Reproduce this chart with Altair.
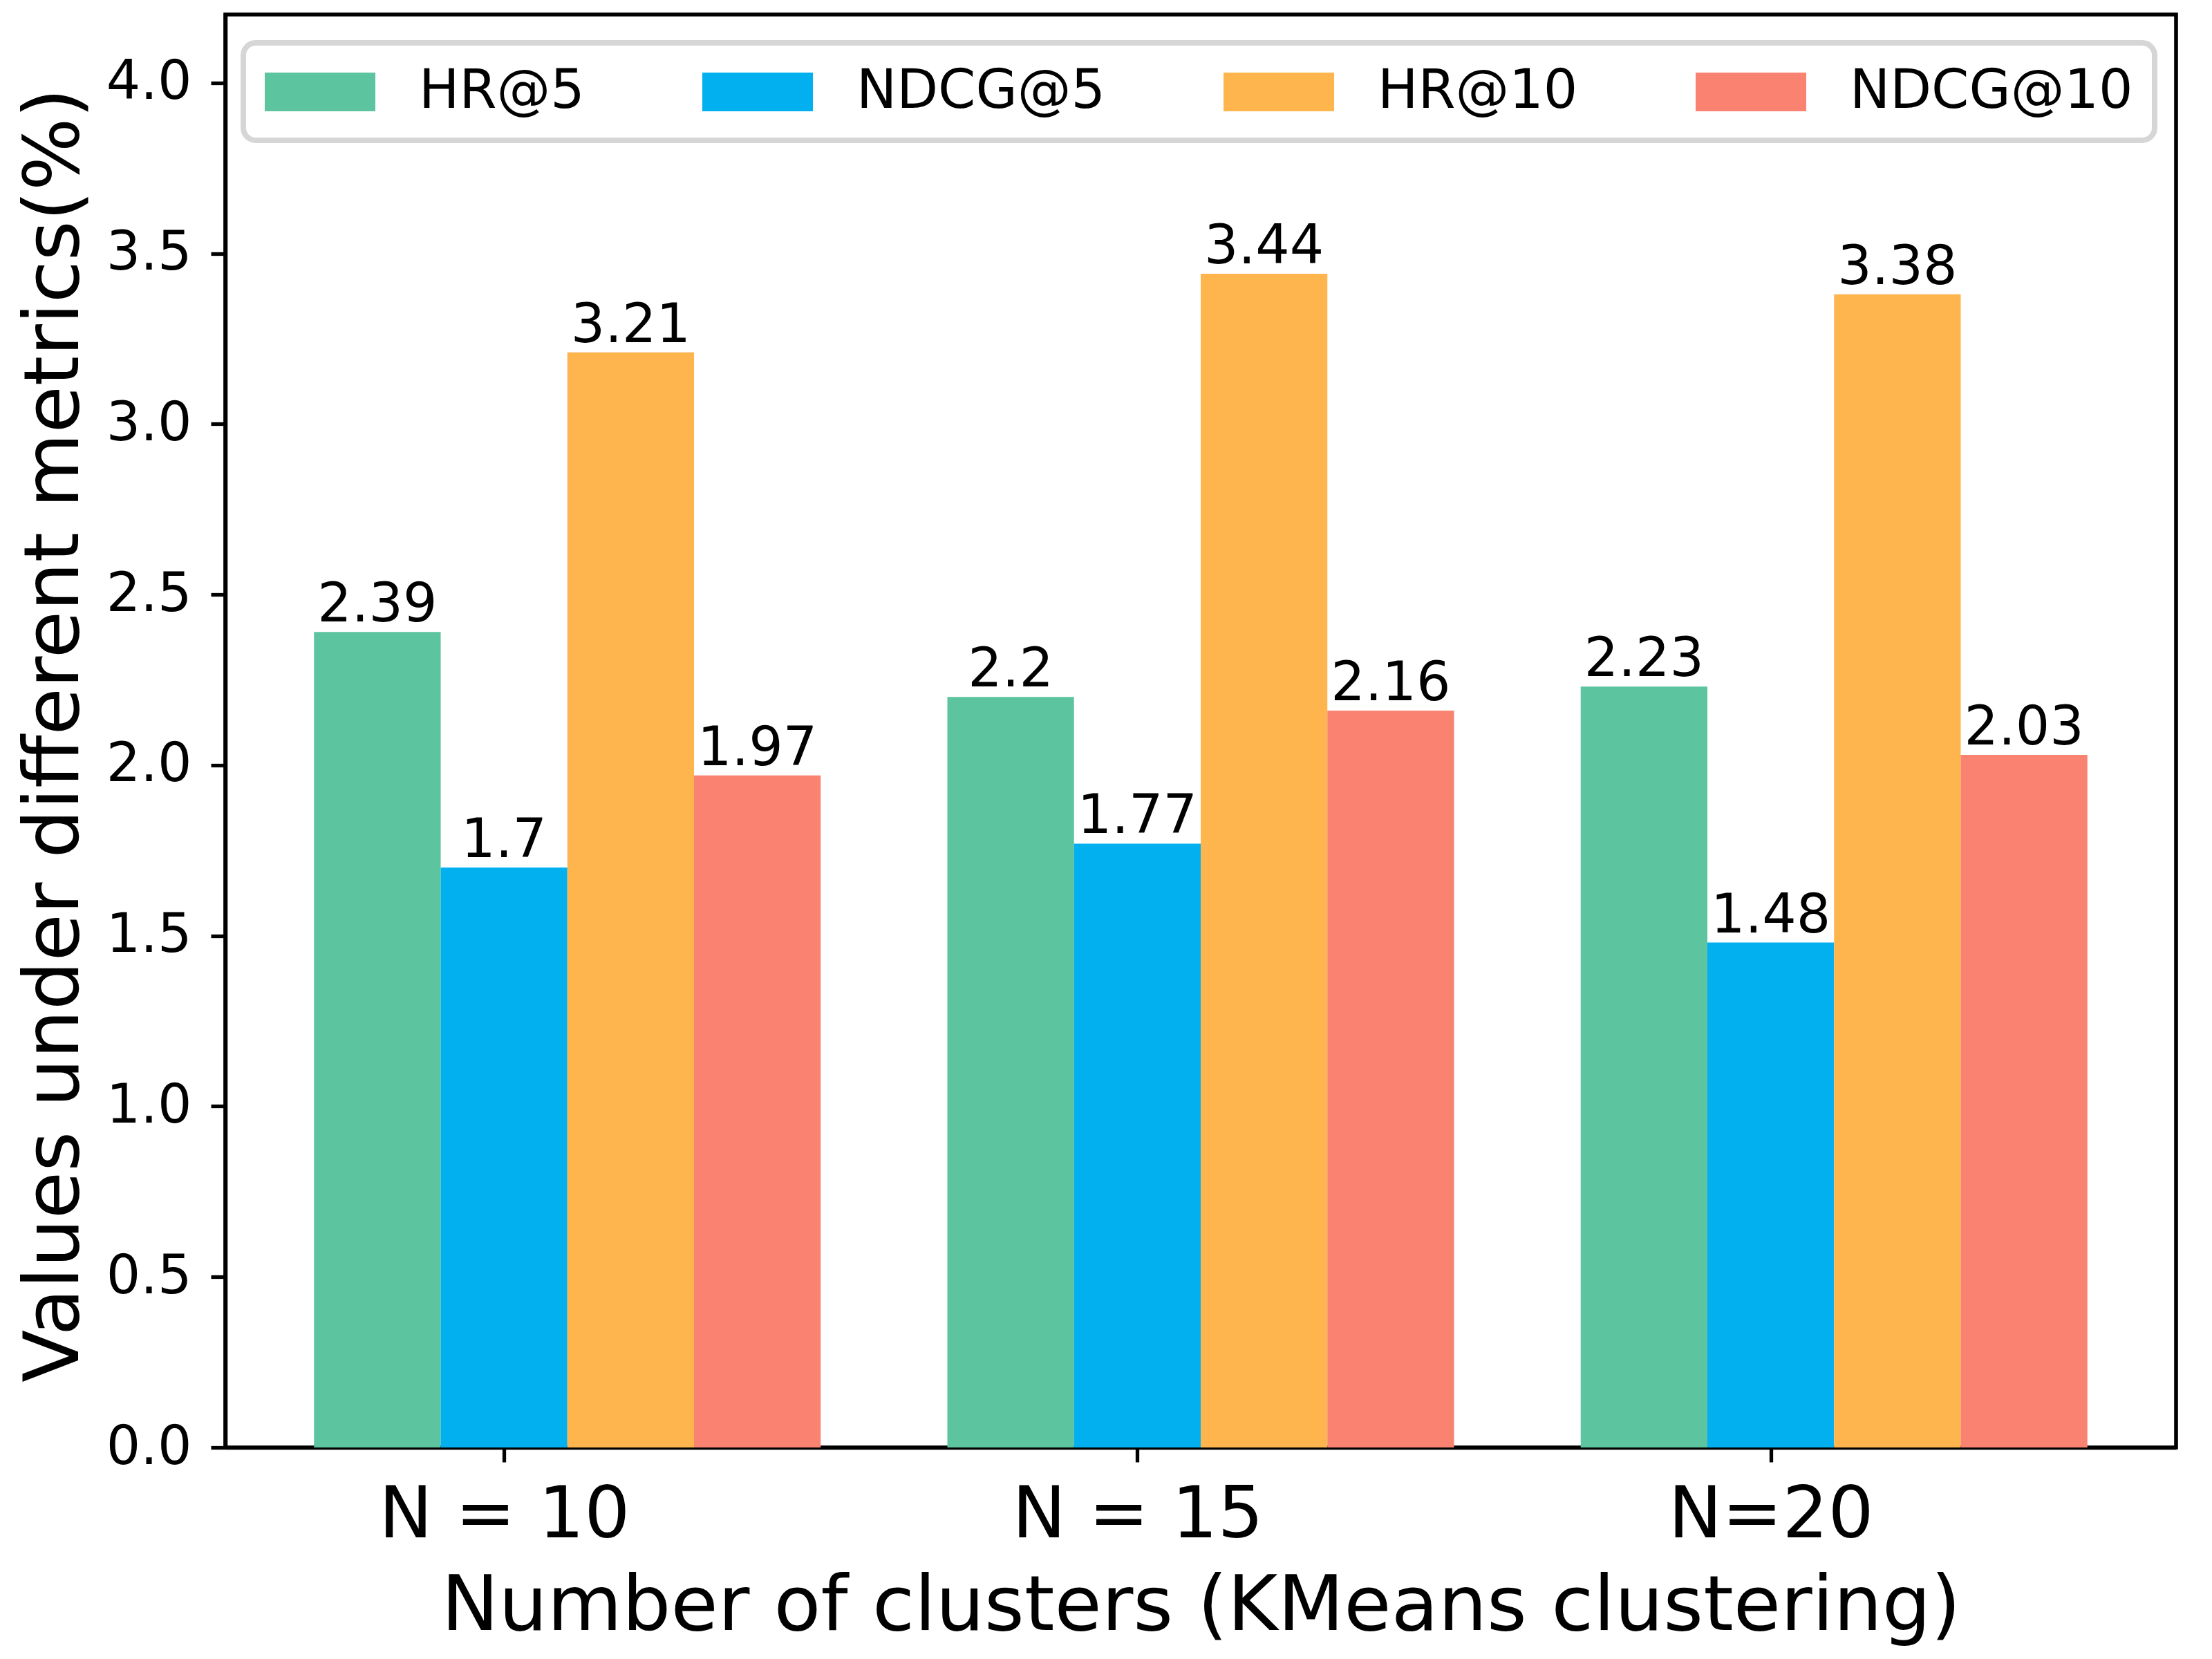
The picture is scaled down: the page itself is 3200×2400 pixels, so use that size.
import altair as alt
import pandas as pd

groups = ["N = 10", "N = 15", "N=20"]
metrics = ["HR@5", "NDCG@5", "HR@10", "NDCG@10"]
colors = ["#5CC49F", "#02B0F0", "#FFB54D", "#FA8270"]
hr5 = [2.39, 2.2, 2.23]
ndcg5 = [1.7, 1.77, 1.48]
hr10 = [3.21, 3.44, 3.38]
ndcg10 = [1.97, 2.16, 2.03]
y_ticks = [0.0, 0.5, 1.0, 1.5, 2.0, 2.5, 3.0, 3.5, 4.0]

series = [hr5, ndcg5, hr10, ndcg10]
rows = []
for si, (m, vals) in enumerate(zip(metrics, series)):
    for gi, v in enumerate(vals):
        rows.append({"gi": gi, "si": si, "metric": m, "value": v, "label": str(v)})
df = pd.DataFrame(rows)

FONT = "DejaVu Sans"
label_expr = "[" + ",".join("'%s'" % g for g in groups) + "][datum.value]"

base = alt.Chart(df).transform_calculate(
    xc="datum.gi + (datum.si - 1) * 0.2",
    xs="datum.gi + (datum.si - 1) * 0.2 - 0.1",
    xe="datum.gi + (datum.si - 1) * 0.2 + 0.1",
)

xscale = alt.Scale(domain=[-0.44, 2.64], nice=False, zero=False)
yscale = alt.Scale(domain=[0, 4.2], nice=False, zero=True)

bars = base.mark_bar(strokeWidth=0).encode(
    x=alt.X("xs:Q", scale=xscale,
            axis=alt.Axis(values=[0, 1, 2], labelExpr=label_expr, title="Number of clusters (KMeans clustering)",
                          labelFontSize=104, labelFont=FONT, labelPadding=26, labelFlush=False,
                          labelOverlap=False, labelBound=False, labelLimit=0,
                          titleFontSize=111, titleFont=FONT, titleFontWeight="normal",
                          titleX=1411, titleY=263, titleBaseline="alphabetic", titleAlign="center",
                          titleLimit=0, grid=False)),
    x2="xe:Q",
    y=alt.Y("value:Q", scale=yscale,
            axis=alt.Axis(values=y_ticks, format=".1f", title="Values under different metrics(%)",
                          labelFontSize=77.8, labelFont=FONT, labelPadding=28, labelFlush=False,
                          labelOverlap=False,
                          titleFontSize=111, titleFont=FONT, titleFontWeight="normal",
                          titleAngle=270, titleX=-214, titleY=1042, titleBaseline="alphabetic",
                          titleAlign="center", titleLimit=0, grid=False)),
    y2=alt.datum(0),
    color=alt.Color("metric:N", scale=alt.Scale(domain=metrics, range=colors),
                    sort=metrics,
                    legend=alt.Legend(title=None, orient="none", legendX=26, legendY=41,
                                      direction="horizontal", columns=4,
                                      symbolType="M-1,-0.7H3V0.7H-1Z", symbolSize=6400,
                                      symbolStrokeWidth=0, symbolOpacity=1,
                                      labelFontSize=77.8, labelFont=FONT, labelColor="black",
                                      labelOffset=143, columnPadding=170, padding=31,
                                      fillColor="white", strokeColor="#D6D6D6",
                                      cornerRadius=18, labelLimit=0)),
)

texts = base.mark_text(baseline="alphabetic", align="center", dy=-15, fontSize=77.8,
                       font=FONT, color="black").encode(
    x=alt.X("xc:Q", scale=xscale),
    y=alt.Y("value:Q", scale=yscale),
    text="label:N",
)

chart = alt.layer(bars, texts).properties(
    width=2822, height=2073,
    autosize=alt.AutoSizeParams(type="none"),
    padding={"left": 318, "top": 13, "right": 44, "bottom": 298},
).configure_view(stroke="black", strokeWidth=5.6).configure_axis(
    domainColor="black", domainWidth=5.6, tickColor="black", tickWidth=5.3, tickSize=21,
    labelColor="black", titleColor="black",
).configure_legend(strokeWidth=8)

chart.save("out.html", embed_options={"renderer": "svg", "actions": False})
